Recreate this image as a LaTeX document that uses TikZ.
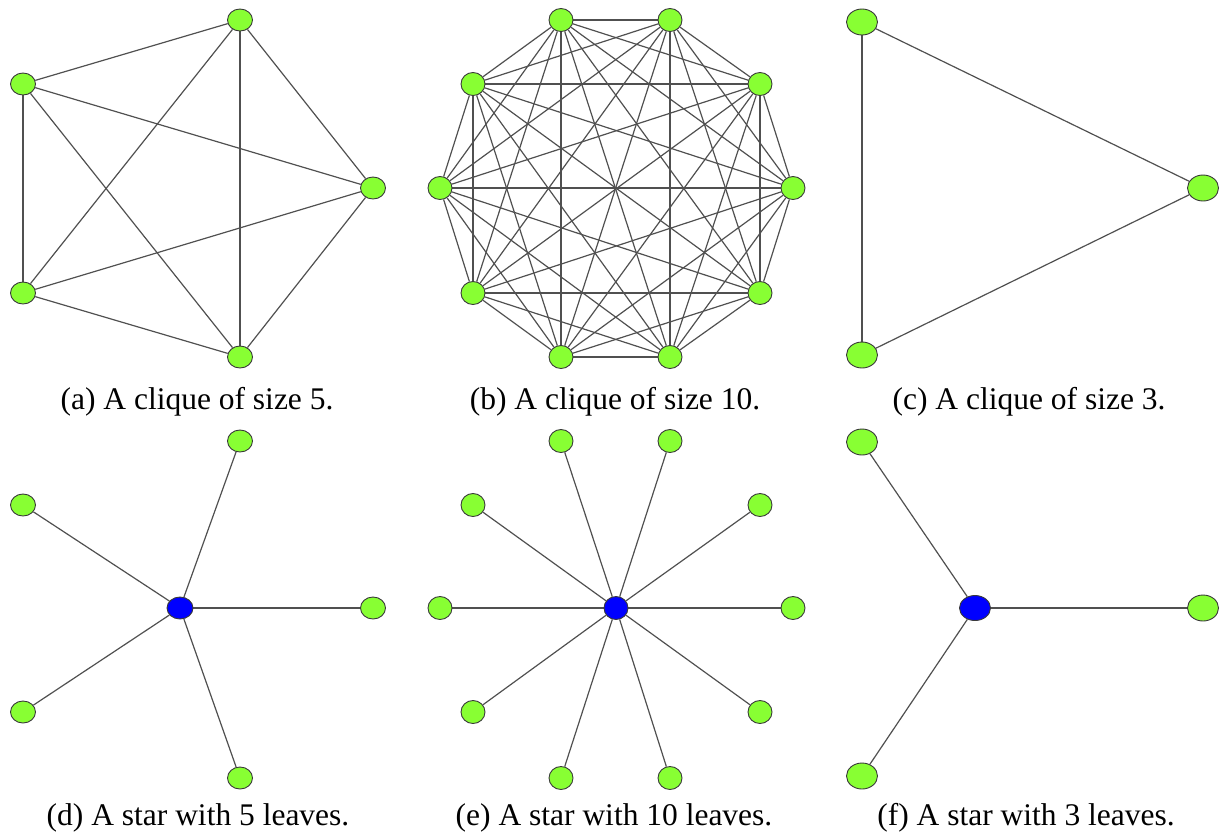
\documentclass[tikz,border=0pt]{standalone}
\usepackage{fontspec}
\setmainfont{Liberation Serif}
\newfontfamily\capfont{Liberation Serif}
\usetikzlibrary{shapes.geometric}
\pgfdeclarelayer{edgelayer}
\pgfsetlayers{edgelayer,main}
\definecolor{leafgreen}{HTML}{88FF33}
\definecolor{hubblue}{HTML}{0000FF}
\definecolor{edgegray}{HTML}{505050}
\definecolor{rimgray}{HTML}{3A3A3A}
\tikzset{
  vtx/.style={ellipse, draw=rimgray, line width=0.9pt, fill=leafgreen, minimum width=25pt, minimum height=22pt, inner sep=0pt},
  vbig/.style={vtx, minimum width=31pt, minimum height=26pt},
  vround/.style={vtx, minimum width=24pt, minimum height=23pt},
  hub/.style={vtx, fill=hubblue, minimum width=26pt, minimum height=22pt},
  hubbig/.style={vtx, fill=hubblue, minimum width=31pt, minimum height=25pt},
  edge/.style={draw=edgegray, line width=1.2pt},
  captext/.style={anchor=base, font=\capfont\fontsize{31.5}{36}\selectfont, inner sep=0pt}
}
\begin{document}
\begin{tikzpicture}[x=1pt,y=-1pt]
\useasboundingbox (0,0) rectangle (1225,831);
% (a) clique of size 5
\node[vtx] (a1) at (240,20) {};
\node[vtx] (a2) at (23,84) {};
\node[vtx] (a3) at (373,188) {};
\node[vtx] (a4) at (23,293) {};
\node[vtx] (a5) at (240,357) {};
% (b) clique of size 10
\node[vround] (b1) at (561,20) {};
\node[vround] (b2) at (670,20) {};
\node[vround] (b3) at (760,84) {};
\node[vround] (b4) at (793,188) {};
\node[vround] (b5) at (760,293) {};
\node[vround] (b6) at (670,357) {};
\node[vround] (b7) at (561,357) {};
\node[vround] (b8) at (473,293) {};
\node[vround] (b9) at (440,188) {};
\node[vround] (b10) at (473,84) {};
% (c) clique of size 3
\node[vbig] (c1) at (862,22) {};
\node[vbig] (c2) at (1203,188) {};
\node[vbig] (c3) at (862,355) {};
% (d) star with 5 leaves
\node[hub] (d0) at (180,608) {};
\node[vtx] (d1) at (240,441) {};
\node[vtx] (d2) at (23,505) {};
\node[vtx] (d3) at (373,608) {};
\node[vtx] (d4) at (23,712) {};
\node[vtx] (d5) at (240,778) {};
% (e) star with 10 leaves
\node[vround, fill=hubblue] (e0) at (616,608) {};
\node[vround] (e1) at (561,441) {};
\node[vround] (e2) at (670,441) {};
\node[vround] (e3) at (760,505) {};
\node[vround] (e4) at (793,608) {};
\node[vround] (e5) at (760,712) {};
\node[vround] (e6) at (670,778) {};
\node[vround] (e7) at (561,778) {};
\node[vround] (e8) at (473,712) {};
\node[vround] (e9) at (440,608) {};
\node[vround] (e10) at (473,505) {};
% (f) star with 3 leaves
\node[hubbig] (f0) at (975,608) {};
\node[vbig] (f1) at (862,442) {};
\node[vbig] (f2) at (1203,608) {};
\node[vbig] (f3) at (862,776) {};
% edges
\begin{pgfonlayer}{edgelayer}
\foreach \i in {1,...,5}{\foreach \j in {1,...,5}{\ifnum\i<\j \draw[edge] (a\i) -- (a\j);\fi}}
\foreach \i in {1,...,10}{\foreach \j in {1,...,10}{\ifnum\i<\j \draw[edge] (b\i) -- (b\j);\fi}}
\draw[edge] (c1) -- (c2);
\draw[edge] (c2) -- (c3);
\draw[edge] (c3) -- (c1);
\foreach \i in {1,...,5}{\draw[edge] (d0) -- (d\i);}
\foreach \i in {1,...,10}{\draw[edge] (e0) -- (e\i);}
\foreach \i in {1,...,3}{\draw[edge] (f0) -- (f\i);}
\end{pgfonlayer}
% captions
\node[captext] (capa) at (197,409) {(a) A clique of size 5.};
\node[captext] (capb) at (615,409) {(b) A clique of size 10.};
\node[captext] (capc) at (1029,409) {(c) A clique of size 3.};
\node[captext] (capd) at (198,825) {(d) A star with 5 leaves.};
\node[captext] (cape) at (614,825) {(e) A star with 10 leaves.};
\node[captext] (capf) at (1026,825) {(f) A star with 3 leaves.};
\end{tikzpicture}
\end{document}
